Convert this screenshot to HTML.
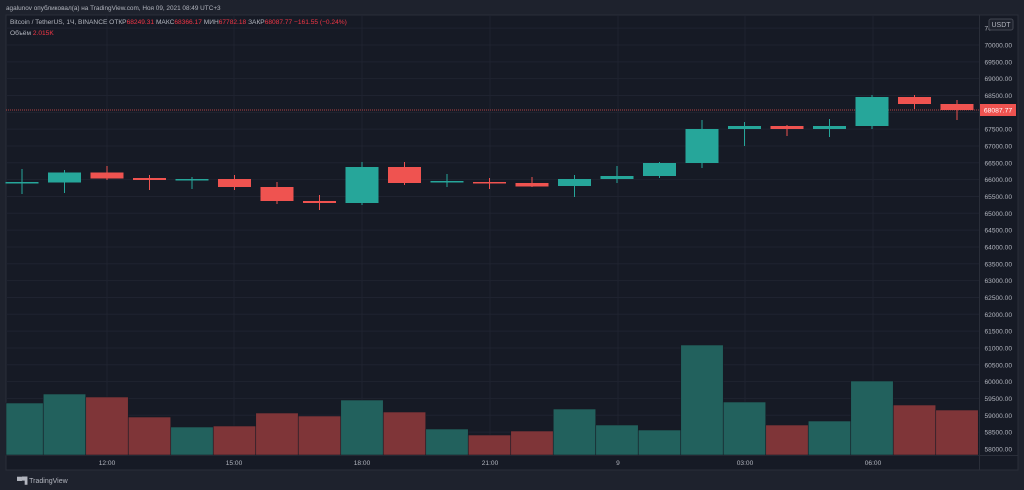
<!DOCTYPE html>
<html><head><meta charset="utf-8"><style>
body{margin:0;width:1024px;height:490px;background:#1e222d;overflow:hidden;font-family:"Liberation Sans","DejaVu Sans",sans-serif;}
svg{position:absolute;left:0;top:0}
</style></head><body>
<svg id="s" width="1024" height="490" xmlns="http://www.w3.org/2000/svg">
<rect x="0" y="0" width="1024" height="490" fill="#1e222d"/>
<rect x="6" y="15" width="1012" height="455" fill="#161a25" stroke="#2a2e39"/>
<g id="g"></g>
<text x="6" y="10" fill="#b2b5be" font-size="6.4">agalunov опубликовал(а) на TradingView.com, Ноя 09, 2021 08:49 UTC+3</text>
<text x="10" y="24" font-size="6.6" fill="#b2b5be">Bitcoin / TetherUS, 1Ч, BINANCE  ОТКР<tspan fill="#f23645">68249.31</tspan>  МАКС<tspan fill="#f23645">68366.17</tspan>  МИН<tspan fill="#f23645">67782.18</tspan>  ЗАКР<tspan fill="#f23645">68087.77  −161.55 (−0.24%)</tspan></text>
<text x="10" y="35" font-size="6.6" fill="#b2b5be">Объём  <tspan fill="#f23645">2.015K</tspan></text>
<text x="17" y="483" font-size="7" fill="#b2b5be">▀▜ TradingView</text>
</svg>
<script>
var g=document.getElementById('g'),h='';
function Y(p){return 45+(70000-p)/500*16.83;}
for(var p=58000;p<=70500;p+=500){var y=Y(p);h+='<line x1="6" x2="979.5" y1="'+y+'" y2="'+y+'" stroke="#1f2330"/>';
 h+='<text x="1012" y="'+(y+2.5)+'" font-size="6.6" fill="#b2b5be" text-anchor="end">'+p+'.00</text>';}
h+='<rect x="989" y="19" width="24" height="11" rx="2" fill="#1e222d" stroke="#434651"/><text x="1001" y="27" font-size="7" fill="#b2b5be" text-anchor="middle">USDT</text>';
var tl=[[107,'12:00'],[234,'15:00'],[362,'18:00'],[490,'21:00'],[618,'9'],[745,'03:00'],[873,'06:00']];
tl.forEach(function(t){h+='<line x1="'+t[0]+'" x2="'+t[0]+'" y1="15" y2="455" stroke="#1f2330"/><text x="'+t[0]+'" y="465" font-size="6.6" fill="#b2b5be" text-anchor="middle">'+t[1]+'</text>';});
h+='<line x1="979.5" x2="979.5" y1="15" y2="470" stroke="#2a2e39"/><line x1="6" x2="1018" y1="455.5" y2="455.5" stroke="#2a2e39"/>';
var c=[['g',182,183,169,194],['g',172.5,182.5,170,193],['r',172.5,178.5,166,180],['r',178,180,175,190],['g',179,180,177,189],['r',179,187,175,190],['r',187,201,182,204],['r',201,203,195,210],['g',167,203,162,205],['r',167,183,162,185],['g',181,182.5,174,187],['r',182,183.5,178,189],['r',183,186.5,177,187],['g',179,186,175,197],['g',176,179,166,183],['g',163,176,162,178],['g',129,163,120,168],['g',126,129,122,146],['r',126,129,125,136],['g',126,129,119,137],['g',97,126,95,129],['r',97,104,95,109],['r',104,110,100,120]];
var v=[403,394,397,417,427,426,413,416,400,412,429,435,431,409,425,430,345,402,425,421,381,405,410];
for(var i=0;i<23;i++){var cx=22+i*42.5,k=c[i],vc=k[0]=='g'?'#22615d':'#7f3538';
 var x0=Math.max(6,cx-21.25);h+='<rect x="'+x0+'" y="'+v[i]+'" width="'+(cx+21.25-x0)+'" height="'+(455-v[i])+'" fill="'+vc+'" stroke="#161a25" stroke-width="0.6"/>';}
h+='<line x1="6" x2="979.5" y1="110" y2="110" stroke="#ef5350" stroke-dasharray="1,1" opacity="0.7"/>';
for(var i=0;i<23;i++){var cx=22+i*42.5,k=c[i],col=k[0]=='g'?'#26a69a':'#ef5350';
 h+='<line x1="'+cx+'" x2="'+cx+'" y1="'+k[3]+'" y2="'+k[4]+'" stroke="'+col+'"/>';
 h+='<rect x="'+(cx-16.5)+'" y="'+k[1]+'" width="33" height="'+Math.max(1.5,k[2]-k[1])+'" fill="'+col+'"/>';}
h+='<rect x="980" y="104" width="36" height="12" fill="#ef5350"/><text x="998" y="112.5" font-size="6.8" fill="#fff" text-anchor="middle">68087.77</text>';
g.innerHTML=h;
</script>
</body></html>
